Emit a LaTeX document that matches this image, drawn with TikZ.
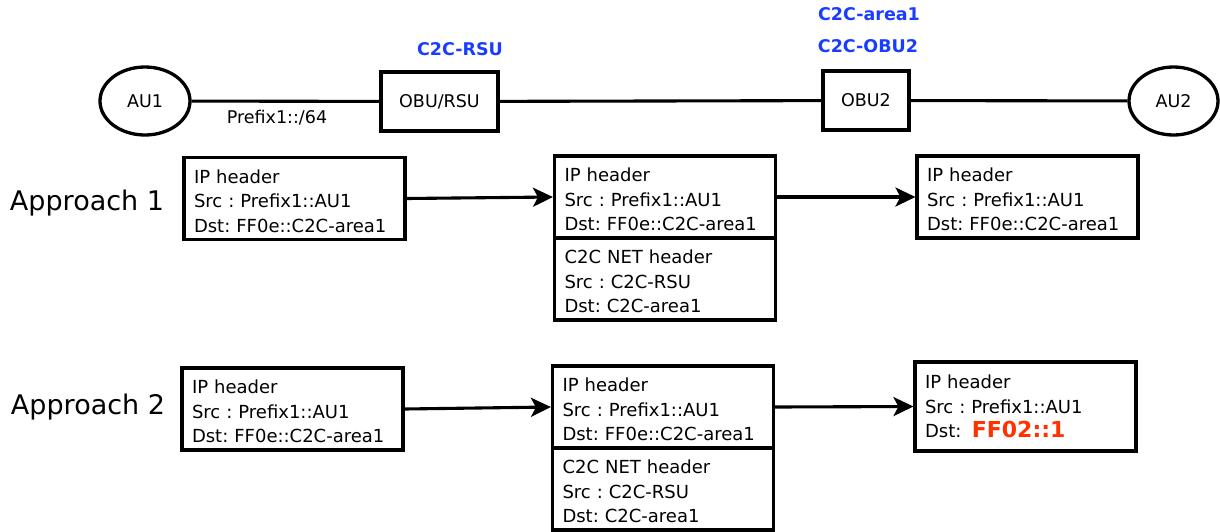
\documentclass[tikz,border=0pt]{standalone}
\usepackage{fontspec}
\setmainfont{DejaVu Sans}
\usetikzlibrary{shapes.geometric,arrows.meta}
\definecolor{lblblue}{HTML}{1A3CFF}
\definecolor{lblred}{HTML}{FF3300}
\newcommand\tstr{\rule{0pt}{19pt}}
\begin{document}
\frenchspacing
\begin{tikzpicture}[x=1pt,y=-1pt,line width=3.1pt,
  hdr/.style={draw,rectangle,inner xsep=10pt,inner ysep=0pt,text width=201pt,minimum height=82pt,align=left,font=\fontsize{18}{24.5}\selectfont\frenchspacing},
  dev/.style={draw,rectangle,inner sep=0pt,font=\fontsize{17.5}{20}\selectfont,minimum height=59pt},
  au/.style={draw,ellipse,inner sep=0pt,minimum width=90pt,minimum height=68pt,line width=3.3pt,font=\fontsize{17.5}{20}\selectfont},
  lbl/.style={font=\fontsize{17.5}{20}\selectfont},
  blbl/.style={font=\fontsize{17.5}{20}\selectfont\bfseries,text=lblblue},
  appr/.style={font=\fontsize{27}{30}\selectfont},
  flow/.style={-{Stealth[length=20pt,width=19pt,inset=5pt]}}
]
\useasboundingbox (0,0) rectangle (1220,531);
% top row
\node[au] (au1) at (145,101) {AU1};
\node[dev,minimum width=117pt] (rsu) at (439.5,101.5) {OBU/RSU};
\node[dev,minimum width=86pt] (obu2) at (866,100.5) {OBU2};
\node[au,minimum width=89pt] (au2) at (1173.5,101) {AU2};
\draw (au1) -- (rsu);
\draw (rsu) -- (obu2);
\draw (obu2) -- (au2);
\node[lbl] (pfx) at (277,118) {Prefix1::/64};
\node[blbl] (lrsu) at (460,49) {C2C-RSU};
\node[blbl] (larea) at (869,14) {C2C-area1};
\node[blbl] (lobu) at (868,46) {C2C-OBU2};
% approach 1
\node[appr] (ap1) at (87,203) {Approach 1};
\node[hdr,minimum width=221pt] (a11) at (294.5,198.5) {\tstr IP header\\Src : Prefix1::AU1\\Dst: FF0e::C2C-area1};
\node[hdr] (a12) at (665,197) {\tstr IP header\\Src : Prefix1::AU1\\Dst: FF0e::C2C-area1};
\node[hdr] (a12b) at (665,279) {\tstr C2C NET header\\Src : C2C-RSU\\Dst: C2C-area1};
\node[hdr,minimum width=221pt] (a13) at (1027.5,197) {\tstr IP header\\Src : Prefix1::AU1\\Dst: FF0e::C2C-area1};
\draw[flow] (a11.east) -- (a12.west);
\draw[flow] (a12.east) -- (a13.west);
% approach 2
\node[appr] (ap2) at (88,407) {Approach 2};
\node[hdr,minimum width=221pt] (a21) at (292.5,409) {\tstr IP header\\Src : Prefix1::AU1\\Dst: FF0e::C2C-area1};
\node[hdr] (a22) at (663,407) {\tstr IP header\\Src : Prefix1::AU1\\Dst: FF0e::C2C-area1};
\node[hdr] (a22b) at (663,489) {\tstr C2C NET header\\Src : C2C-RSU\\Dst: C2C-area1};
\node[hdr,minimum width=221pt,minimum height=89pt] (a23) at (1025.5,406.5) {IP header\\Src : Prefix1::AU1\\Dst:\hspace{10.5pt}{\color{lblred}\bfseries\fontsize{22}{24.5}\selectfont FF02::1}};
\draw[flow] (a21.east) -- (a22.west);
\draw[flow] (a22.east) -- (a23.west);
\end{tikzpicture}
\end{document}
